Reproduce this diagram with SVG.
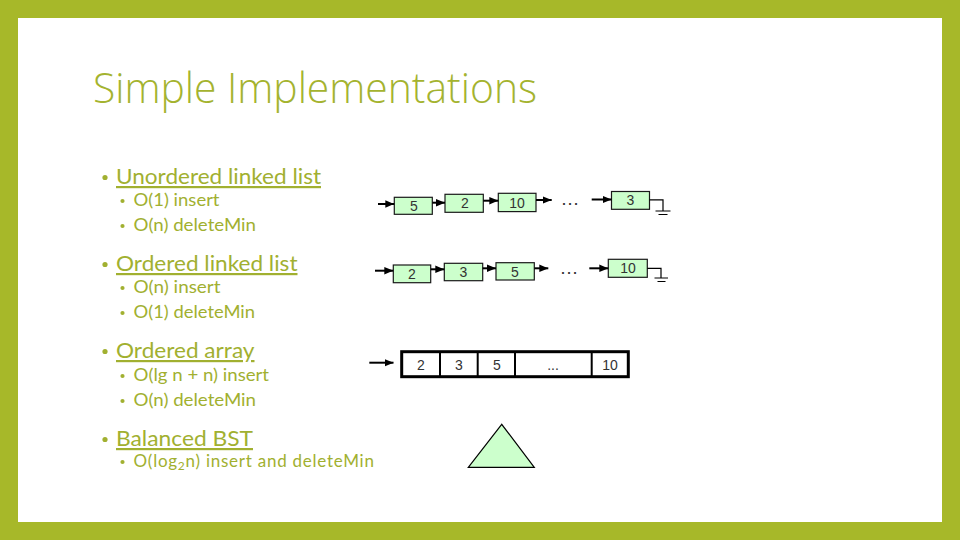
<svg xmlns="http://www.w3.org/2000/svg" width="960" height="540" viewBox="0 0 960 540">
<defs>
<style>
.title{font-family:"Open Sans","Lato",sans-serif;font-weight:300;font-size:42px;fill:#a4b32f}
.main{font-family:"Lato","Open Sans",sans-serif;font-size:22px;fill:#a1b030;text-decoration:underline}
.sub{font-family:"Lato","Open Sans",sans-serif;font-size:17px;fill:#a1b030}
.dot{fill:#a1b030}
.node rect{fill:#ccffcc;stroke:#1a1a1a;stroke-width:1.2}
.lbl{font-family:"Liberation Sans",Arial,sans-serif;font-size:14px;fill:#333;text-anchor:middle}
.ell{font-family:"Liberation Sans",Arial,sans-serif;font-size:19px;fill:#333;text-anchor:middle}
.arr{stroke:#000;stroke-width:2;fill:none;marker-end:url(#ah)}
.gnd{stroke:#000;stroke-width:1.2;fill:none}
.cell{fill:#fff;stroke:#000;stroke-width:3}
.div{stroke:#000;stroke-width:2}
</style>
<marker id="ah" markerUnits="userSpaceOnUse" markerWidth="9" markerHeight="8" refX="9" refY="4" orient="auto">
<path d="M0,0.3 L9,4 L0,7.7 z" fill="#000"/>
</marker>
</defs>
<rect x="0" y="0" width="960" height="540" fill="#a7b829"/>
<rect x="18" y="18" width="924" height="504" fill="#fff"/>
<text class="title" x="93" y="103" textLength="444" lengthAdjust="spacingAndGlyphs">Simple Implementations</text>

<g id="bullets">
<circle class="dot" cx="105" cy="177.5" r="2.6"/>
<text class="main" x="116" y="184" textLength="205" lengthAdjust="spacingAndGlyphs">Unordered linked list</text>
<circle class="dot" cx="122.5" cy="201" r="2.1"/>
<text class="sub" x="133.5" y="206" textLength="86" lengthAdjust="spacingAndGlyphs">O(1) insert</text>
<circle class="dot" cx="122.5" cy="226" r="2.1"/>
<text class="sub" x="133.5" y="231" textLength="122.5" lengthAdjust="spacingAndGlyphs">O(n) deleteMin</text>

<circle class="dot" cx="105" cy="264.5" r="2.6"/>
<text class="main" x="116" y="271" textLength="181.5" lengthAdjust="spacingAndGlyphs">Ordered linked list</text>
<circle class="dot" cx="122.5" cy="288" r="2.1"/>
<text class="sub" x="133.5" y="293" textLength="87" lengthAdjust="spacingAndGlyphs">O(n) insert</text>
<circle class="dot" cx="122.5" cy="313" r="2.1"/>
<text class="sub" x="133.5" y="318" textLength="121.5" lengthAdjust="spacingAndGlyphs">O(1) deleteMin</text>

<circle class="dot" cx="105" cy="351.5" r="2.6"/>
<text class="main" x="116" y="358" textLength="138.5" lengthAdjust="spacingAndGlyphs">Ordered array</text>
<circle class="dot" cx="122.5" cy="376" r="2.1"/>
<text class="sub" x="133.5" y="381" textLength="135.5" lengthAdjust="spacingAndGlyphs">O(lg n + n) insert</text>
<circle class="dot" cx="122.5" cy="401" r="2.1"/>
<text class="sub" x="133.5" y="406" textLength="122.5" lengthAdjust="spacingAndGlyphs">O(n) deleteMin</text>

<circle class="dot" cx="105" cy="439.5" r="2.6"/>
<text class="main" x="116" y="446" textLength="137" lengthAdjust="spacingAndGlyphs">Balanced BST</text>
<circle class="dot" cx="122.5" cy="462" r="2.1"/>
<text class="sub" x="133.5" y="467" letter-spacing="0.75">O(log<tspan font-size="12" dy="3">2</tspan><tspan dy="-3">n) insert and deleteMin</tspan></text>
</g>

<g id="unordered-list">
<g id="u5" class="node"><rect x="394.3" y="197.3" width="38" height="17"/><text class="lbl" x="414" y="210.5">5</text></g>
<g id="u2" class="node"><rect x="445" y="194.3" width="38.3" height="18"/><text class="lbl" x="465" y="208">2</text></g>
<g id="u10" class="node"><rect x="498.3" y="193.3" width="37.7" height="18.3"/><text class="lbl" x="517" y="207.5">10</text></g>
<text class="ell" x="570" y="205">…</text>
<g id="u3" class="node"><rect x="611.5" y="191.5" width="38" height="17.8"/><text class="lbl" x="630.5" y="205">3</text></g>
</g>

<g id="ordered-list">
<g id="o2" class="node"><rect x="393.3" y="265" width="37.4" height="17.7"/><text class="lbl" x="412" y="279">2</text></g>
<g id="o3" class="node"><rect x="444.3" y="263.3" width="38.4" height="17.4"/><text class="lbl" x="463.5" y="277">3</text></g>
<g id="o5" class="node"><rect x="496" y="262.7" width="38.3" height="17.3"/><text class="lbl" x="515" y="276.5">5</text></g>
<text class="ell" x="569" y="273.5">…</text>
<g id="o10" class="node"><rect x="608.3" y="259.3" width="39" height="18"/><text class="lbl" x="628" y="273">10</text></g>
</g>

<g id="ordered-array">
<rect class="cell" x="401.7" y="351.7" width="226.6" height="25"/>
<line class="div" x1="440" y1="351.7" x2="440" y2="376.7"/>
<line class="div" x1="477.7" y1="351.7" x2="477.7" y2="376.7"/>
<line class="div" x1="515" y1="351.7" x2="515" y2="376.7"/>
<line class="div" x1="591.7" y1="351.7" x2="591.7" y2="376.7"/>
<text class="lbl" x="421" y="369.5">2</text>
<text class="lbl" x="459" y="369.5">3</text>
<text class="lbl" x="497" y="369.5">5</text>
<text class="lbl" x="553" y="369.5" font-size="11">...</text>
<text class="lbl" x="610" y="369.5">10</text>
</g>

<g id="bst">
<polygon points="501.7,424.3 468.3,467.3 534.3,467.3" fill="#ccffcc" stroke="#000" stroke-width="1.2"/>
</g>

<g id="connectors">
<line class="arr" x1="378" y1="204" x2="394.3" y2="204"/>
<line class="arr" x1="432.3" y1="202.7" x2="445" y2="202.7"/>
<line class="arr" x1="483.3" y1="200.7" x2="498.3" y2="200.7"/>
<line class="arr" x1="536" y1="200" x2="551.7" y2="200"/>
<line class="arr" x1="591.7" y1="199.5" x2="611.5" y2="199.5"/>
<path class="gnd" d="M649.5,199.8 H663 V211 M655.5,211 H670.5 M658.5,214.5 H667.5"/>

<line class="arr" x1="375" y1="270.7" x2="393.3" y2="270.7"/>
<line class="arr" x1="430.7" y1="269.3" x2="444.3" y2="269.3"/>
<line class="arr" x1="482.7" y1="268.3" x2="496" y2="268.3"/>
<line class="arr" x1="534.3" y1="268.3" x2="548.3" y2="268.3"/>
<line class="arr" x1="589.3" y1="268.3" x2="608.3" y2="268.3"/>
<path class="gnd" d="M647.3,268.3 H661 V278 M654.5,278 H668 M657.5,281.5 H665.5"/>

<line class="arr" x1="369.3" y1="362.7" x2="393.5" y2="362.7" stroke-width="1.6"/>
</g>
</svg>
